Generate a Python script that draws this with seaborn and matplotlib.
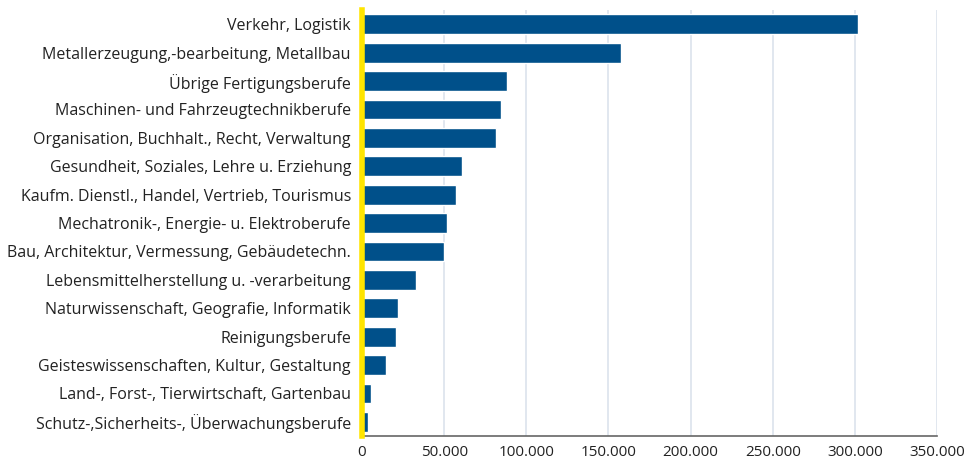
import numpy as np
import pandas as pd
import matplotlib.pyplot as plt
import seaborn as sns
from matplotlib.ticker import FuncFormatter

# data
berufe = [
    "Verkehr, Logistik",
    "Metallerzeugung,-bearbeitung, Metallbau",
    "Übrige Fertigungsberufe",
    "Maschinen- und Fahrzeugtechnikberufe",
    "Organisation, Buchhalt., Recht, Verwaltung",
    "Gesundheit, Soziales, Lehre u. Erziehung",
    "Kaufm. Dienstl., Handel, Vertrieb, Tourismus",
    "Mechatronik-, Energie- u. Elektroberufe",
    "Bau, Architektur, Vermessung, Gebäudetechn.",
    "Lebensmittelherstellung u. -verarbeitung",
    "Naturwissenschaft, Geografie, Informatik",
    "Reinigungsberufe",
    "Geisteswissenschaften, Kultur, Gestaltung",
    "Land-, Forst-, Tierwirtschaft, Gartenbau",
    "Schutz-,Sicherheits-, Überwachungsberufe",
]
werte = [302000, 157500, 88000, 84500, 81500, 61000, 57500, 51500, 50000,
         33000, 22000, 20800, 14800, 5500, 3800]
ticks = [0, 50000, 100000, 150000, 200000, 250000, 300000, 350000]

df = pd.DataFrame({"beruf": berufe, "wert": werte})

sns.set_style("white")
plt.rcParams['font.family'] = ['Open Sans', 'DejaVu Sans']

fig, ax = plt.subplots(figsize=(9.69, 4.59), dpi=100)
fig.subplots_adjust(left=0.3736, right=0.967, top=0.978, bottom=0.05)

sns.barplot(data=df, x="wert", y="beruf", color="#00508a", saturation=1,
            width=0.7, ax=ax, zorder=3)

ax.set_xlim(0, 350000)
ax.set_xticks(ticks)
ax.xaxis.set_major_formatter(FuncFormatter(lambda v, p: f"{int(v):,}".replace(",", ".")))
ax.grid(axis="x", color="#dbe3ec", linewidth=1.2, zorder=0)
ax.set_xlabel("")
ax.set_ylabel("")

for s in ["top", "right"]:
    ax.spines[s].set_visible(False)
ax.spines["left"].set_color("#ffe500")
ax.spines["left"].set_linewidth(4)
ax.spines["left"].set_zorder(5)
ax.spines["bottom"].set_color("#666666")
ax.spines["bottom"].set_linewidth(1.2)

ax.tick_params(axis="x", length=5, width=1, color="#333333", labelsize=11, pad=1.5, labelcolor="#222222")
ax.tick_params(axis="y", length=0, labelsize=11.5, pad=8, labelcolor="#222222")

fig.savefig("out.png", dpi=100)
